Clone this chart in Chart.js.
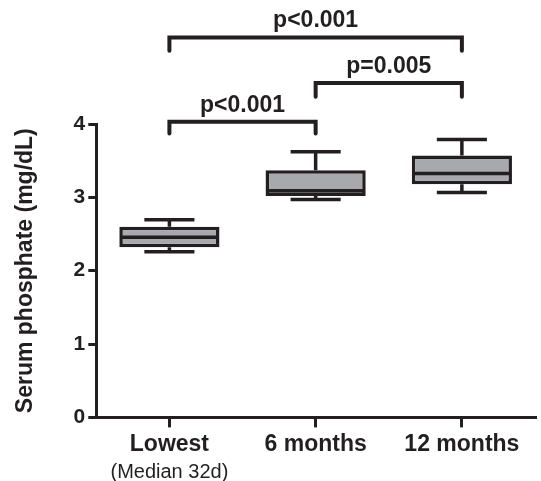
<!DOCTYPE html>
<html>
<head>
<meta charset="utf-8">
<script src="https://cdn.jsdelivr.net/npm/chart.js@4"></script>
<style>
html,body{margin:0;padding:0;background:#fff;}
#wrap{width:541px;height:481px;position:relative;}
</style>
</head>
<body>
<div id="wrap"><canvas id="c" width="541" height="481"></canvas></div>
<script>
const categories = ["Lowest", "6 months", "12 months"];
const subLabels = ["(Median 32d)", "", ""];
const mins    = [2.26, 2.97, 3.065];
const q1s     = [2.32, 3.02, 3.18];
const medians = [2.455, 3.09, 3.325];
const q3s     = [2.60, 3.37, 3.57];
const maxs    = [2.695, 3.62, 3.79];
const compFrom   = [0, 1, 0];
const compTo     = [1, 2, 2];
const compLabels = ["p<0.001", "p=0.005", "p<0.001"];
const compY      = [4.03, 4.56, 5.18];
const compDrop   = [3.87, 4.37, 5.0];

const INK = '#231f20';
const FILL = '#a7a9ac';
const FONT = "'Liberation Sans', Arial, Helvetica, sans-serif";

const boxPlugin = {
  id: 'boxExtras',
  afterDatasetsDraw(chart) {
    const ctx = chart.ctx;
    const x = chart.scales.x, y = chart.scales.y;
    const meta = chart.getDatasetMeta(0);
    ctx.save();
    ctx.strokeStyle = INK;
    ctx.lineWidth = 3.5;
    ctx.lineCap = 'butt';
    meta.data.forEach((bar, i) => {
      const cx = bar.x;
      const half = bar.width / 2;
      const capHalf = bar.width / 4;
      const ym = y.getPixelForValue(medians[i]);
      ctx.beginPath();
      ctx.moveTo(cx - half + 1, ym); ctx.lineTo(cx + half - 1, ym); ctx.stroke();
      const yq3 = y.getPixelForValue(q3s[i]);
      const ymax = y.getPixelForValue(maxs[i]);
      ctx.beginPath();
      ctx.moveTo(cx, yq3); ctx.lineTo(cx, ymax);
      ctx.moveTo(cx - capHalf, ymax); ctx.lineTo(cx + capHalf, ymax);
      ctx.stroke();
      const yq1 = y.getPixelForValue(q1s[i]);
      const ymin = y.getPixelForValue(mins[i]);
      ctx.beginPath();
      ctx.moveTo(cx, yq1); ctx.lineTo(cx, ymin);
      ctx.moveTo(cx - capHalf, ymin); ctx.lineTo(cx + capHalf, ymin);
      ctx.stroke();
    });
    // sub labels under category ticks
    ctx.fillStyle = INK;
    ctx.font = "20px " + FONT;
    ctx.textAlign = 'center';
    ctx.textBaseline = 'middle';
    subLabels.forEach((s, i) => {
      if (s) ctx.fillText(s, x.getPixelForValue(i), chart.chartArea.bottom + 55);
    });
    // significance brackets
    ctx.lineWidth = 4;
    ctx.lineCap = 'round';
    ctx.lineJoin = 'miter';
    ctx.font = "bold 23px " + FONT;
    ctx.textBaseline = 'alphabetic';
    compLabels.forEach((lab, k) => {
      const xa = x.getPixelForValue(compFrom[k]);
      const xb = x.getPixelForValue(compTo[k]);
      const yt = y.getPixelForValue(compY[k]);
      const yd = y.getPixelForValue(compDrop[k]);
      ctx.beginPath();
      ctx.moveTo(xa, yd); ctx.lineTo(xa, yt); ctx.lineTo(xb, yt); ctx.lineTo(xb, yd);
      ctx.stroke();
      ctx.fillText(lab, (xa + xb) / 2, yt - 10);
    });
    ctx.restore();
  }
};

new Chart(document.getElementById('c'), {
  type: 'bar',
  data: {
    labels: categories,
    datasets: [{
      data: categories.map((c, i) => [q1s[i], q3s[i]]),
      backgroundColor: FILL,
      borderColor: INK,
      borderWidth: 3.5,
      borderSkipped: false,
      categoryPercentage: 1,
      barPercentage: 0.685
    }]
  },
  options: {
    responsive: false,
    animation: false,
    devicePixelRatio: 1,
    layout: { padding: { top: 124, right: 6, left: 12, bottom: 20 } },
    plugins: { legend: { display: false }, tooltip: { enabled: false } },
    scales: {
      x: {
        type: 'category',
        position: 'bottom',
        grid: { display: true, drawOnChartArea: false, drawTicks: true, tickLength: 10, color: INK, lineWidth: 3, offset: false },
        border: { display: true, color: INK, width: 3 },
        ticks: { color: INK, font: { family: FONT, size: 23, weight: 'bold' }, padding: 3, maxRotation: 0 }
      },
      y: {
        min: 0, max: 4,
        ticks: { stepSize: 1, color: INK, font: { family: FONT, size: 21, weight: 'bold' }, padding: 3 },
        grid: { display: true, drawOnChartArea: false, drawTicks: true, tickLength: 8, color: INK, lineWidth: 3 },
        border: { display: true, color: INK, width: 3 },
        title: { display: true, text: 'Serum phosphate (mg/dL)', color: INK, font: { family: FONT, size: 23, weight: 'bold' }, padding: { top: 0, bottom: 31 } }
      }
    }
  },
  plugins: [boxPlugin]
});
</script>
</body>
</html>
